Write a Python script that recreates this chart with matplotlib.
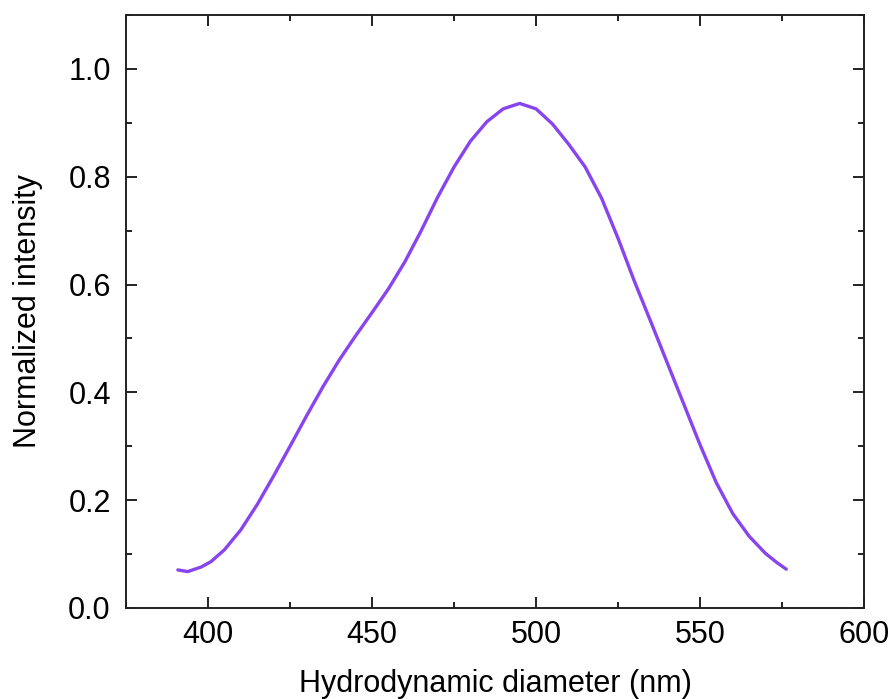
import numpy as np
import matplotlib.pyplot as plt
from matplotlib.ticker import MultipleLocator

plt.rcParams['font.family'] = ['Liberation Sans', 'DejaVu Sans']

# Valors llegits de la corba (diàmetre en nm, intensitat normalitzada)
diametre = [390.8, 393.8, 397.9, 400.9, 405, 410, 415, 420, 425, 430, 435,
            440, 445, 450, 455, 460, 465, 470, 475, 480, 485, 490, 495,
            500, 505, 510, 515, 520, 525, 530, 535, 540, 545, 550, 555,
            560, 565, 570, 573.5, 576.3]
intensitat = [0.0706, 0.0675, 0.076, 0.086, 0.108, 0.145, 0.192, 0.245, 0.300,
              0.356, 0.410, 0.460, 0.505, 0.548, 0.592, 0.642, 0.700, 0.762,
              0.818, 0.866, 0.902, 0.926, 0.936, 0.926, 0.898, 0.860, 0.818,
              0.760, 0.686, 0.606, 0.531, 0.455, 0.379, 0.303, 0.232, 0.175,
              0.133, 0.101, 0.084, 0.072]

fig = plt.figure(figsize=(8.92, 6.99), dpi=100)
ax = fig.add_axes([0.1413, 0.1302, 0.8273, 0.8483])

ax.plot(diametre, intensitat, color='#8844ee', linewidth=2.4,
        solid_capstyle='round', solid_joinstyle='round')

ax.set_xlim(375, 600)
ax.set_ylim(0, 1.1)
ax.xaxis.set_major_locator(MultipleLocator(50))
ax.xaxis.set_minor_locator(MultipleLocator(25))
ax.yaxis.set_major_locator(MultipleLocator(0.2))
ax.yaxis.set_minor_locator(MultipleLocator(0.1))
ax.yaxis.set_major_formatter(plt.FormatStrFormatter('%.1f'))

for s in ax.spines.values():
    s.set_linewidth(1.4)
    s.set_color('#222222')

ax.tick_params(which='both', direction='in', top=True, right=True, width=1.4, color='#222222')
ax.tick_params(which='major', length=8, labelsize=22, pad=9)
ax.tick_params(which='minor', length=4)
ax.tick_params(axis='y', which='major', pad=11)

ax.set_xlabel('Hydrodynamic diameter (nm)', fontsize=22, labelpad=13)
ax.set_ylabel('Normalized intensity', fontsize=22, labelpad=18)

fig.savefig('out.png', dpi=100)
